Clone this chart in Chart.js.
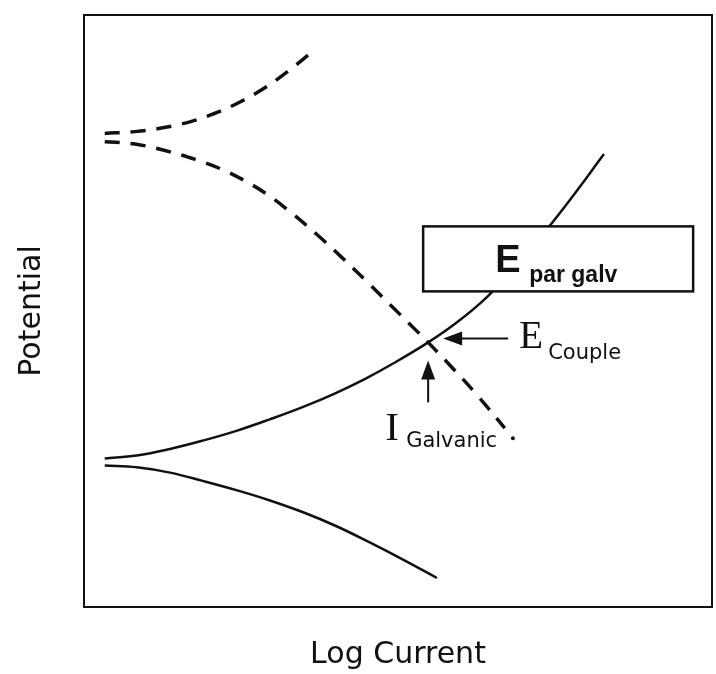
<!DOCTYPE html>
<html>
<head>
<meta charset="utf-8">
<script src="https://cdn.jsdelivr.net/npm/chart.js@4.4.1/dist/chart.umd.min.js"></script>
<style>
html, body { margin: 0; padding: 0; background: #fff; }
</style>
</head>
<body>
<canvas id="evans" width="716" height="674"></canvas>
<script>
// Evans diagram, arbitrary units (0-10 on both axes, no ticks shown)
const dashUpperX = [0.33, 0.81, 1.23, 1.70, 2.13, 2.50, 2.88, 3.25, 3.69];
const dashUpperY = [8.00, 8.03, 8.09, 8.20, 8.36, 8.54, 8.77, 9.05, 9.43];

const dashLowerX = [0.33, 0.81, 1.29, 1.77, 2.18, 2.56, 2.93, 3.30, 3.70, 4.10, 4.50, 4.90, 5.30, 5.48, 5.83, 6.26, 6.70];
const dashLowerY = [7.86, 7.82, 7.71, 7.56, 7.40, 7.20, 6.96, 6.66, 6.30, 5.91, 5.50, 5.08, 4.66, 4.47, 4.08, 3.58, 3.02];

const solidUpperX = [0.33, 0.84, 1.37, 1.89, 2.44, 2.96, 3.49, 4.00, 4.47, 4.95, 5.48, 5.94, 6.42, 6.89, 7.37, 7.74, 8.28];
const solidUpperY = [2.51, 2.56, 2.67, 2.81, 2.98, 3.17, 3.38, 3.61, 3.85, 4.13, 4.47, 4.81, 5.24, 5.78, 6.38, 6.88, 7.65];

const solidLowerX = [0.33, 0.84, 1.37, 1.89, 2.44, 2.96, 3.49, 4.03, 4.55, 5.08, 5.62];
const solidLowerY = [2.39, 2.36, 2.27, 2.13, 1.97, 1.80, 1.60, 1.36, 1.09, 0.80, 0.49];

// stray dot after the dashed cathodic line
const dotX = [6.83];
const dotY = [2.85];

// couple point (E couple, I galvanic)
const coupleX = 5.48;
const coupleY = 4.47;

const axisLabels = ['Log Current', 'Potential'];

function pts(xs, ys) {
    return xs.map(function(v, i) { return {x: v, y: ys[i]}; });
}

const ink = '#111';

// frame + labels drawn on top of the curves
const notes = {
    id: 'notes',
    afterDatasetsDraw(chart) {
        const ctx = chart.ctx;
        const a = chart.chartArea;
        const cx = chart.scales.x.getPixelForValue(coupleX);
        const cy = chart.scales.y.getPixelForValue(coupleY);
        ctx.save();
        ctx.strokeStyle = ink;
        ctx.fillStyle = ink;

        // plot frame
        ctx.lineWidth = 2;
        ctx.strokeRect(a.left, a.top, a.right - a.left, a.bottom - a.top);

        // E par galv box
        ctx.fillStyle = '#fff';
        ctx.fillRect(cx - 5, cy - 116, 270, 65);
        ctx.lineWidth = 2.5;
        ctx.strokeRect(cx - 5, cy - 116, 270, 65);
        ctx.fillStyle = ink;
        ctx.textBaseline = 'alphabetic';
        ctx.textAlign = 'left';
        ctx.font = 'bold 38px "Liberation Sans", Arial, sans-serif';
        ctx.fillText('E', cx + 67, cy - 70);
        ctx.font = 'bold 23px "Liberation Sans", Arial, sans-serif';
        ctx.fillText('par galv', cx + 101, cy - 60);

        // E couple arrow
        ctx.lineWidth = 2;
        ctx.beginPath();
        ctx.moveTo(cx + 30, cy - 4);
        ctx.lineTo(cx + 80, cy - 4);
        ctx.stroke();
        ctx.beginPath();
        ctx.moveTo(cx + 15, cy - 4);
        ctx.lineTo(cx + 34, cy - 11);
        ctx.lineTo(cx + 34, cy + 3);
        ctx.closePath();
        ctx.fill();
        ctx.font = '39px "Liberation Serif", "Times New Roman", serif';
        ctx.fillText('E', cx + 91, cy + 6);
        ctx.font = '21px "DejaVu Sans", sans-serif';
        ctx.fillText('Couple', cx + 120, cy + 17);

        // I galvanic arrow
        ctx.beginPath();
        ctx.moveTo(cx, cy + 34);
        ctx.lineTo(cx, cy + 60);
        ctx.stroke();
        ctx.beginPath();
        ctx.moveTo(cx, cy + 18);
        ctx.lineTo(cx - 7, cy + 37);
        ctx.lineTo(cx + 7, cy + 37);
        ctx.closePath();
        ctx.fill();
        ctx.font = '41px "Liberation Serif", "Times New Roman", serif';
        ctx.fillText('I', cx - 43, cy + 98);
        ctx.font = '21px "DejaVu Sans", sans-serif';
        ctx.fillText('Galvanic', cx - 22, cy + 105);

        ctx.restore();
    }
};

const titleFont = {family: '"DejaVu Sans", sans-serif', size: 30, lineHeight: 1.2};

new Chart(document.getElementById('evans'), {
    type: 'line',
    data: {
        datasets: [
            {data: pts(dashUpperX, dashUpperY), borderColor: ink, borderWidth: 3.5, borderDash: [15, 11], pointRadius: 0, tension: 0.4},
            {data: pts(dashLowerX, dashLowerY), borderColor: ink, borderWidth: 3.5, borderDash: [15, 11], pointRadius: 0, tension: 0.4},
            {data: pts(solidUpperX, solidUpperY), borderColor: ink, borderWidth: 2.5, pointRadius: 0, tension: 0.4},
            {data: pts(solidLowerX, solidLowerY), borderColor: ink, borderWidth: 2.5, pointRadius: 0, tension: 0.4},
            {data: pts(dotX, dotY), showLine: false, pointRadius: 2, pointBackgroundColor: ink, pointBorderWidth: 0}
        ]
    },
    options: {
        responsive: false,
        animation: false,
        layout: {padding: {left: 14, right: 4, top: 15, bottom: 1}},
        plugins: {legend: {display: false}, tooltip: {enabled: false}},
        scales: {
            x: {
                type: 'linear', min: 0, max: 10,
                ticks: {display: false},
                grid: {display: false, drawTicks: false},
                border: {display: false},
                title: {display: true, text: axisLabels[0], color: ink, font: titleFont, padding: 0},
                afterFit: function(s) { s.height = 66; }
            },
            y: {
                type: 'linear', min: 0, max: 10,
                ticks: {display: false},
                grid: {display: false, drawTicks: false},
                border: {display: false},
                title: {display: true, text: axisLabels[1], color: ink, font: titleFont, padding: 0},
                afterFit: function(s) { s.width = 70; }
            }
        }
    },
    plugins: [notes]
});
</script>
</body>
</html>
